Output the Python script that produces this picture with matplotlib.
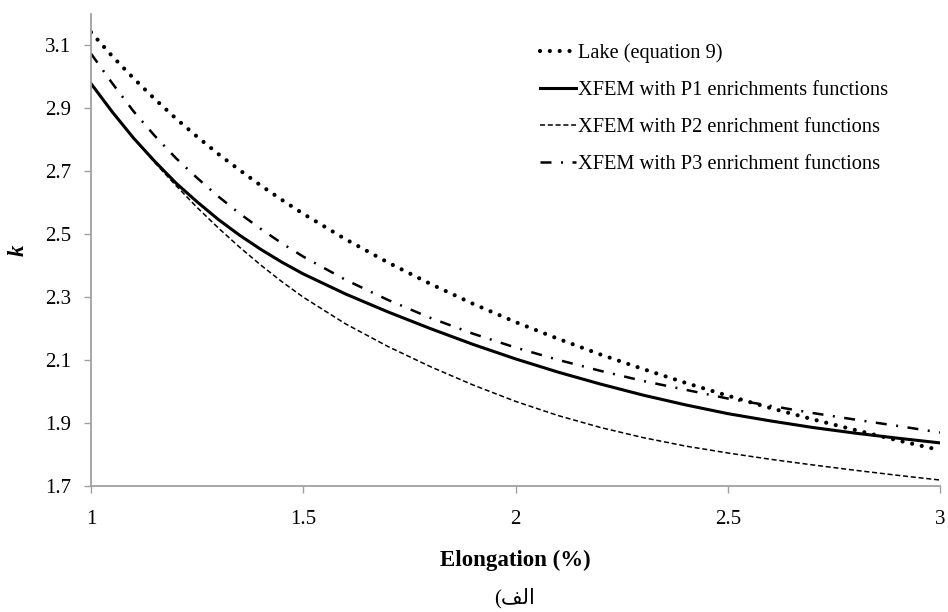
import numpy as np
import matplotlib
matplotlib.use('Agg')
import matplotlib.pyplot as plt

# elongation (%) sample points
elong = [1.0, 1.05, 1.1, 1.15, 1.2, 1.25, 1.3, 1.35, 1.4, 1.45, 1.5,
         1.6, 1.7, 1.8, 1.9, 2.0, 2.1, 2.2, 2.3, 2.4, 2.5,
         2.6, 2.7, 2.8, 2.9, 3.0]

k_lake = [3.142, 3.066, 2.996, 2.930, 2.868, 2.810, 2.755, 2.704, 2.655, 2.609, 2.565,
          2.484, 2.410, 2.342, 2.279, 2.221, 2.168, 2.118, 2.072, 2.028, 1.987,
          1.948, 1.912, 1.878, 1.845, 1.814]
k_p1 = [2.979, 2.889, 2.806, 2.732, 2.663, 2.603, 2.547, 2.497, 2.452, 2.411, 2.374,
        2.310, 2.253, 2.200, 2.150, 2.104, 2.062, 2.024, 1.989, 1.958, 1.930,
        1.907, 1.886, 1.868, 1.852, 1.837]
k_p2 = [2.979, 2.889, 2.806, 2.728, 2.655, 2.585, 2.520, 2.459, 2.402, 2.349, 2.300,
        2.215, 2.143, 2.079, 2.021, 1.969, 1.924, 1.886, 1.854, 1.827, 1.805,
        1.785, 1.767, 1.750, 1.734, 1.719]
k_p3 = [3.074, 2.980, 2.891, 2.813, 2.742, 2.679, 2.620, 2.566, 2.517, 2.471, 2.429,
        2.355, 2.291, 2.234, 2.184, 2.140, 2.101, 2.066, 2.034, 2.006, 1.978,
        1.955, 1.932, 1.911, 1.891, 1.870]

labels = ['Lake (equation 9)',
          'XFEM with P1 enrichments functions',
          'XFEM with P2 enrichment functions',
          'XFEM with P3 enrichment functions']

serif = 'Liberation Serif'
grey = '#a0a0a0'

fig = plt.figure(figsize=(9.48, 6.12), dpi=100)
ax = fig.add_axes([91/948, 1 - 486/612, (940 - 91)/948, (486 - 14)/612])

ax.plot(elong, k_lake, color='black', lw=3.0, linestyle=(0, (0.01, 2.35)),
        dash_capstyle='round', label=labels[0])
ax.plot(elong, k_p1, color='black', lw=2.2, label=labels[1])
ax.plot(elong, k_p2, color='black', lw=1.1, linestyle=(0, (3.3, 1.8)),
        dash_capstyle='butt', label=labels[2])
ax.plot(elong, k_p3, color='black', lw=1.8, linestyle=(0, (4.4, 3.8, 0.8, 3.8)),
        dash_capstyle='butt', label=labels[3])

ax.set_xlim(1, 3)
ax.set_ylim(1.7, 3.2)
ax.set_xticks([1, 1.5, 2, 2.5, 3])
ax.set_xticklabels(['1', '1.5', '2', '2.5', '3'])
ax.set_yticks([1.7, 1.9, 2.1, 2.3, 2.5, 2.7, 2.9, 3.1])
ax.set_yticklabels(['1.7', '1.9', '2.1', '2.3', '2.5', '2.7', '2.9', '3.1'])

for s in ['top', 'right']:
    ax.spines[s].set_visible(False)
for s in ['left', 'bottom']:
    ax.spines[s].set_color(grey)
    ax.spines[s].set_linewidth(1.3)

ax.tick_params(axis='both', direction='out', length=5, width=1, color=grey,
               labelsize=15, labelcolor='black')
ax.tick_params(axis='y', pad=9)
ax.tick_params(axis='x', pad=12)
for t in ax.get_xticklabels() + ax.get_yticklabels():
    t.set_fontfamily(serif)

ax.set_xlabel('Elongation (%)', fontfamily=serif, fontweight='bold',
              fontsize=16.5, labelpad=15)
ax.set_ylabel('k', fontfamily=serif, fontweight='bold', fontstyle='italic',
              fontsize=16.5, labelpad=12)

leg = ax.legend(loc='upper left', bbox_to_anchor=(540/948, 1 - 43/612),
                bbox_transform=fig.transFigure, frameon=False,
                prop={'family': serif, 'size': 14.7},
                handlelength=1.75, handletextpad=0.1, labelspacing=0.87,
                borderpad=0, borderaxespad=0)

# caption below the chart, glyphs given in visual (left-to-right) order
fig.text(515/948, 1 - 598/612, '(\ufed2\ufedf\ufe8d', ha='center', va='center',
         fontsize=15, family=[serif, 'DejaVu Sans'])

fig.savefig('out.png', dpi=100)
